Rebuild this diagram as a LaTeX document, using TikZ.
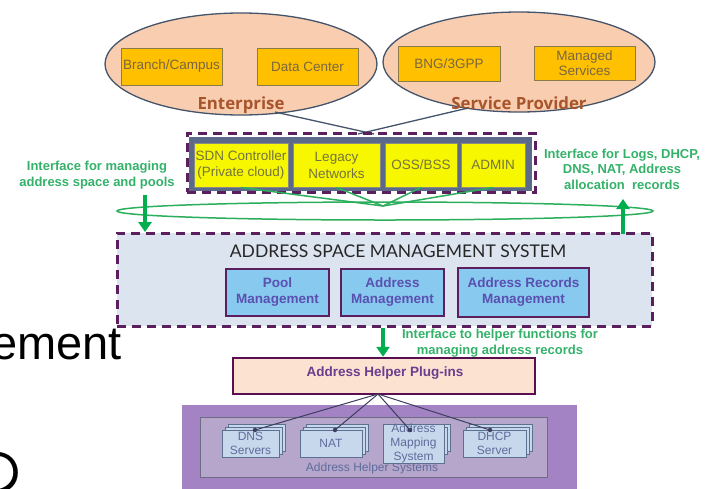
\documentclass[tikz,border=0pt]{standalone}
\usepackage{fontspec}
\setmainfont{Liberation Sans}
\newfontfamily\latof{Lato}
\newfontfamily\opens{Open Sans}
\newfontfamily\cjkf{Noto Sans CJK JP}
\usetikzlibrary{shapes.geometric,arrows.meta}
\newcommand\myfs[2]{\fontsize{#1}{#2}\selectfont}
\definecolor{peach}{HTML}{F8CDB0}
\definecolor{slateE}{HTML}{44546A}
\definecolor{orangeb}{HTML}{FFC000}
\definecolor{oedge}{HTML}{8C7A4A}
\definecolor{otext}{HTML}{7A6640}
\definecolor{entc}{HTML}{A8552C}
\definecolor{yellowb}{HTML}{F7F700}
\definecolor{yedge}{HTML}{8A8A80}
\definecolor{ytext}{HTML}{74743E}
\definecolor{slateF}{HTML}{5C6A8A}
\definecolor{purpD}{HTML}{5B1F5E}
\definecolor{garr}{HTML}{00AE4E}
\definecolor{gline}{HTML}{2CAF5C}
\definecolor{gtxt}{HTML}{34B26A}
\definecolor{asmsf}{HTML}{DCE4F0}
\definecolor{mblue}{HTML}{88C9EF}
\definecolor{mtext}{HTML}{5A50B0}
\definecolor{helpf}{HTML}{FCE2D0}
\definecolor{helpe}{HTML}{5A0F50}
\definecolor{helpt}{HTML}{6A3D8F}
\definecolor{sysout}{HTML}{A383C4}
\definecolor{sysin}{HTML}{B6A6CB}
\definecolor{sysedge}{HTML}{6E6C82}
\definecolor{stkf}{HTML}{C8D8EC}
\definecolor{stke}{HTML}{5C7090}
\definecolor{stkt}{HTML}{5E6C9C}
\definecolor{fanc}{HTML}{3E3E60}
\begin{document}
\begin{tikzpicture}[x=1pt,y=-1pt,
  sz/.style 2 args={minimum width=#1pt,minimum height=#2pt,inner sep=0pt},
  ellp/.style={ellipse,draw=slateE,fill=peach,line width=1.3pt,inner sep=0pt},
  obox/.style={draw=oedge,fill=orangeb,line width=0.8pt,align=center,text=otext,font=\myfs{13.5}{15}},
  elabel/.style={text=entc,font=\opens\bfseries\myfs{16.8}{18}},
  ybox/.style={draw=yedge,fill=yellowb,line width=1pt,align=center,text=ytext,font=\myfs{13.5}{17}},
  dashbox/.style={draw=purpD,dash pattern=on 9pt off 6pt,line width=3pt},
  mbox/.style={draw=purpD,fill=mblue,line width=2pt,align=center,text=mtext,font=\bfseries\myfs{13.5}{16}},
  gtext/.style={text=gtxt,font=\bfseries\myfs{13}{15.5},align=center},
  garrow/.style={draw=garr,line width=4pt,-{Triangle[width=13pt,length=10pt]}},
  bluecon/.style={draw=slateE,line width=1.3pt},
  gcon/.style={draw=gline,line width=1.5pt},
  stk/.style={draw=stke,fill=stkf,line width=0.8pt},
  stkn/.style={stk,align=center,text=stkt,font=\myfs{12}{14}},
  fan/.style={draw=fanc,line width=1pt},
  dotc/.style={circle,fill=fanc,inner sep=0pt,minimum size=4.5pt}
]
\useasboundingbox (0,0) rectangle (706,488);
\clip (0,0) rectangle (706,488);
\fill[white] (0,0) rectangle (706,488);

% background slide fragments
\node[anchor=base east,font=\myfs{47}{50},text=black,inner sep=0pt] (bgA) at (122,359) {ement};
\node[font=\cjkf\myfs{56}{56},text=black,inner sep=0pt] (bgB) at (-4,473) {の};

% top ellipses
\node[ellp,sz={272}{102}] (ent) at (241,64) {};
\node[ellp,sz={272}{100}] (sp) at (519,62) {};
\node[obox,sz={101}{37}] (branch) at (171.5,66.5) {Branch/Campus};
\node[obox,sz={101}{37}] (dc) at (307.5,66.5) {Data Center};
\node[obox,sz={102}{35}] (bng) at (449,64) {BNG/3GPP};
\node[obox,sz={101}{34}] (mgd) at (584.5,63) {Managed\\Services};
\node[elabel] (entl) at (241,105) {Enterprise};
\node[elabel] (spl) at (519,103) {Service Provider};

% connectors from ellipses
\coordinate (e1) at (275,112);
\coordinate (s1) at (468,108);
\coordinate (r1) at (374,134);
\coordinate (r2) at (358,134);
\draw[bluecon] (e1) -- (r1);
\draw[bluecon] (s1) -- (r2);

% row of yellow boxes
\node[fill=slateF,sz={343}{54}] (slate) at (360.5,163.5) {};
\node[dashbox,sz={348}{59}] (row) at (361,162.5) {};
\node[ybox,sz={94}{44}] (sdn) at (241,165) {SDN Controller\\(Private cloud)};
\node[ybox,sz={87}{44}] (leg) at (336.5,165) {Legacy\\Networks};
\node[ybox,sz={72}{44}] (oss) at (421,165) {OSS/BSS};
\node[ybox,sz={64}{44}] (adm) at (493,165) {ADMIN};

% green lens and fan
\node[ellipse,draw=gline,line width=1.5pt,sz={536}{18}] (lens) at (385,211) {};
\coordinate (gj) at (383,206);
\draw[gcon] (sdn.south) -- (gj);
\draw[gcon] (leg.south) -- (gj);
\draw[gcon] (oss.south) -- (gj);
\draw[gcon] (adm.south) -- (gj);

% interface texts
\node[gtext] (lt) at (97,175) {Interface for managing\\address space and pools};
\node[gtext] (rt) at (622,169) {Interface for Logs, DHCP,\\DNS, NAT, Address\\allocation\ \ records};

% ASMS
\node[dashbox,fill=asmsf,sz={535}{93}] (asms) at (384.5,279.5) {};
\node[font=\latof\myfs{17.5}{20},text=black!85] (asmst) at (398,251) {ADDRESS SPACE MANAGEMENT SYSTEM};
\node[mbox,sz={103}{47}] (pool) at (277.5,292.5) {Pool\\Management};
\node[mbox,sz={103}{47}] (addr) at (392.5,292.5) {Address\\Management};
\node[mbox,sz={131}{49}] (rec) at (523.5,292.5) {Address Records\\Management};

% green arrows
\coordinate (la0) at (145,195);
\coordinate (la1) at (145,232);
\draw[garrow] (la0) -- (la1);
\coordinate (ra0) at (623,234);
\coordinate (ra1) at (623,199);
\draw[garrow] (ra0) -- (ra1);

% helper
\node[draw=helpe,fill=helpf,line width=2.5pt,sz={302}{36}] (help) at (384,376) {};
\node[text=helpt,font=\bfseries\myfs{13.5}{16}] (helpt) at (385,373) {Address Helper Plug-ins};
\draw[garrow] (asms.south -| 383,0) -- (help.north -| 383,0);
\node[gtext] (ht) at (500,343) {Interface to helper functions for\\managing address records};

% helper systems
\node[fill=sysout,sz={395}{84}] (sysO) at (379.5,447) {};
\node[draw=sysedge,fill=sysin,line width=1pt,sz={347}{60}] (sysI) at (373.5,447) {};
\node[text=stkt,font=\myfs{12}{14}] (syst) at (372,468) {Address Helper Systems};

\newcommand\stackbx[5]{%
  \draw[stk] (#2-#3/2+6,#4-13.5-6) rectangle (#2+#3/2+6,#4+13.5-6);
  \draw[stk] (#2-#3/2+3,#4-13.5-3) rectangle (#2+#3/2+3,#4+13.5-3);
  \node[stkn,sz={#3}{27}] (#1) at (#2,#4) {#5};}
\stackbx{dns}{250.5}{57}{443.5}{DNS\\Servers}
\stackbx{nat}{331}{62}{443.5}{NAT}
\stackbx{ams}{413.5}{61}{443.5}{Address\\Mapping\\System}
\stackbx{dhcp}{494.5}{63}{443.5}{DHCP\\Server}

\coordinate (hf) at (378,394);
\node[dotc] (dnsT) at (255,430) {};
\node[dotc] (natT) at (335,430) {};
\node[dotc] (amsT) at (410,430) {};
\node[dotc] (dhcpT) at (490,430) {};
\draw[fan] (hf) -- (dnsT.center);
\draw[fan] (hf) -- (natT.center);
\draw[fan] (hf) -- (amsT.center);
\draw[fan] (hf) -- (dhcpT.center);
\end{tikzpicture}
\end{document}
